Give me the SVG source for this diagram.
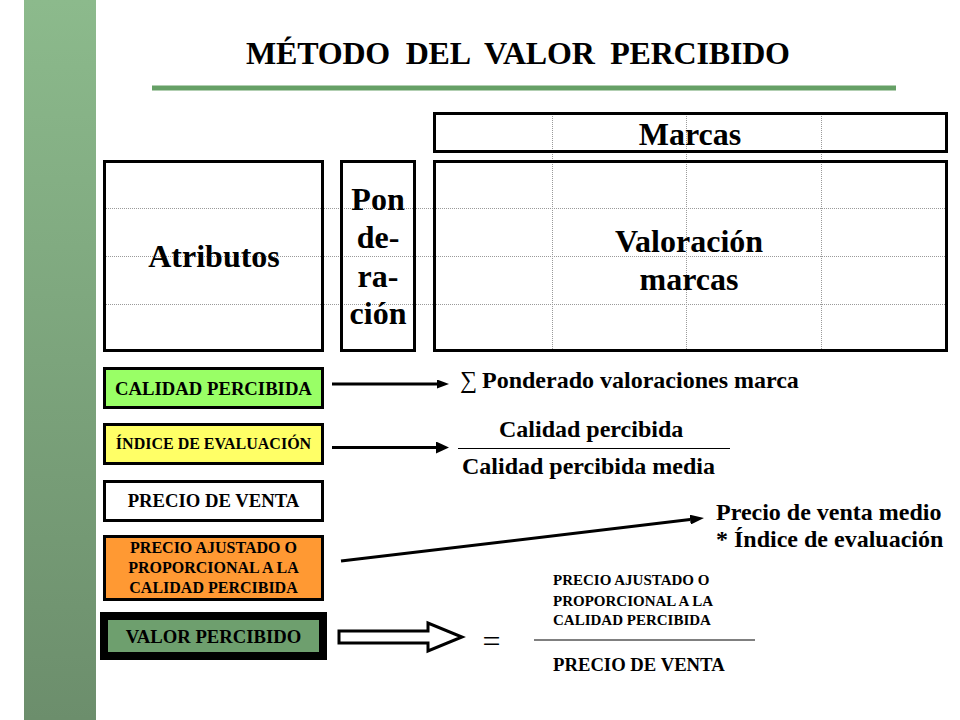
<svg xmlns="http://www.w3.org/2000/svg" width="960" height="720" viewBox="0 0 960 720">
  <defs>
    <linearGradient id="barGrad" x1="0" y1="0" x2="0" y2="1">
      <stop offset="0" stop-color="#8CBA8C"/>
      <stop offset="1" stop-color="#6C8E6C"/>
    </linearGradient>
    <marker id="headS" markerUnits="userSpaceOnUse" markerWidth="12" markerHeight="9" refX="0" refY="4.5" orient="auto">
      <path d="M0,0 L12,4.5 L0,9 z" fill="#000"/>
    </marker>
    <marker id="headL" markerUnits="userSpaceOnUse" markerWidth="13" markerHeight="12" refX="0" refY="6" orient="auto">
      <path d="M0,0 L13,6 L0,12 z" fill="#000"/>
    </marker>
    <marker id="headM" markerUnits="userSpaceOnUse" markerWidth="14" markerHeight="10" refX="0" refY="5" orient="auto">
      <path d="M0,0 L14,5 L0,10 z" fill="#000"/>
    </marker>
  </defs>
  <style>
    text { font-family: "Liberation Serif", Tinos, "DejaVu Serif", "Noto Serif", serif; }
    .t { font-weight: bold; fill: #000; }
    .big { font-size: 32px; }
    .mid { font-size: 24px; }
    .lbl { font-size: 18.7px; }
    .sm { font-size: 16px; }
    .xs { font-size: 15px; }
    .box { stroke: #000; stroke-width: 3; }
    .grid { stroke: #9a9a9a; stroke-width: 1; stroke-dasharray: 1 1; fill: none; }
    .conn { stroke: #000; stroke-width: 3; fill: none; }
  </style>

  <rect x="0" y="0" width="960" height="720" fill="#fff"/>
  <rect id="sidebar" x="24" y="0" width="72" height="720" fill="url(#barGrad)"/>

  <g id="title">
    <text class="t big" x="518" y="64" text-anchor="middle" xml:space="preserve" style="white-space:pre" textLength="544">MÉTODO  DEL  VALOR  PERCIBIDO</text>
    <rect x="152" y="85.5" width="744" height="5" fill="#66A066"/>
  </g>

  <g id="grid">
    <line class="grid" x1="104" y1="208.5" x2="948" y2="208.5"/>
    <line class="grid" x1="104" y1="256.5" x2="948" y2="256.5"/>
    <line class="grid" x1="104" y1="304.5" x2="948" y2="304.5"/>
    <line class="grid" x1="552.5" y1="112" x2="552.5" y2="352"/>
    <line class="grid" x1="686.5" y1="112" x2="686.5" y2="352"/>
    <line class="grid" x1="821.5" y1="112" x2="821.5" y2="352"/>
  </g>

  <g id="marcas">
    <rect class="box" x="434.5" y="113.5" width="512" height="38" fill="none"/>
    <text class="t big" x="690" y="145" text-anchor="middle">Marcas</text>
  </g>

  <g id="atributos">
    <rect class="box" x="104.5" y="161.5" width="218" height="189" fill="none"/>
    <text class="t big" x="214" y="267" text-anchor="middle">Atributos</text>
  </g>

  <g id="ponderacion">
    <rect class="box" x="341.5" y="161.5" width="73" height="189" fill="none"/>
    <text class="t big" x="378" y="210" text-anchor="middle">Pon</text>
    <text class="t big" x="378" y="248" text-anchor="middle">de-</text>
    <text class="t big" x="378" y="287" text-anchor="middle">ra-</text>
    <text class="t big" x="378" y="324" text-anchor="middle">ción</text>
  </g>

  <g id="valoracion">
    <rect class="box" x="434.5" y="161.5" width="512" height="189" fill="none"/>
    <text class="t big" x="689" y="252" text-anchor="middle">Valoración</text>
    <text class="t big" x="689" y="290" text-anchor="middle">marcas</text>
  </g>

  <g id="calidad-percibida">
    <rect class="box" x="104.5" y="368.5" width="218" height="39" fill="#99FF66"/>
    <text class="t lbl" x="213.5" y="395" text-anchor="middle">CALIDAD PERCIBIDA</text>
  </g>

  <g id="indice-evaluacion">
    <rect class="box" x="104.5" y="424.5" width="218" height="39" fill="#FFFF66"/>
    <text class="t sm" x="213.5" y="449" text-anchor="middle">ÍNDICE DE EVALUACIÓN</text>
  </g>

  <g id="precio-venta">
    <rect class="box" x="104.5" y="481.5" width="218" height="39" fill="#FFFFFF"/>
    <text class="t lbl" x="213.5" y="507" text-anchor="middle">PRECIO DE VENTA</text>
  </g>

  <g id="precio-ajustado">
    <rect class="box" x="104.5" y="536.5" width="218" height="63" fill="#FF9933"/>
    <text class="t sm" x="213.5" y="553" text-anchor="middle">PRECIO AJUSTADO O</text>
    <text class="t sm" x="213.5" y="573" text-anchor="middle">PROPORCIONAL A LA</text>
    <text class="t sm" x="213.5" y="593" text-anchor="middle">CALIDAD PERCIBIDA</text>
  </g>

  <g id="valor-percibido">
    <rect x="104" y="616" width="219" height="40" fill="#6E9F6E" stroke="#000" stroke-width="8"/>
    <text class="t lbl" x="213.5" y="643" text-anchor="middle">VALOR PERCIBIDO</text>
  </g>

  <g id="ponderado">
    <text class="t mid" x="460" y="388"><tspan style="font-weight:normal">∑</tspan><tspan x="482">Ponderado valoraciones marca</tspan></text>
  </g>

  <g id="indice-formula">
    <text class="t mid" x="499" y="437">Calidad percibida</text>
    <line x1="458" y1="448.5" x2="730" y2="448.5" stroke="#000" stroke-width="1"/>
    <text class="t mid" x="462" y="474">Calidad percibida media</text>
  </g>

  <g id="precio-formula">
    <text class="t mid" x="716" y="520">Precio de venta medio</text>
    <text class="t mid" x="716" y="547">* Índice de evaluación</text>
  </g>

  <g id="valor-formula">
    <text x="491.5" y="652" text-anchor="middle" style="font-size:32px;fill:#000">=</text>
    <text class="t xs" x="553" y="585">PRECIO AJUSTADO O</text>
    <text class="t xs" x="553" y="606">PROPORCIONAL A LA</text>
    <text class="t xs" x="553" y="625">CALIDAD PERCIBIDA</text>
    <line x1="534" y1="640" x2="755" y2="640" stroke="#000" stroke-width="1"/>
    <text class="t lbl" x="553" y="671">PRECIO DE VENTA</text>
  </g>

  <g id="connectors">
    <line class="conn" x1="332" y1="384" x2="437" y2="384" marker-end="url(#headS)"/>
    <line class="conn" x1="332" y1="447.5" x2="436" y2="447.5" marker-end="url(#headL)"/>
    <line class="conn" x1="341" y1="561" x2="690.1" y2="519.6" marker-end="url(#headM)"/>
    <polygon points="339,631 428,631 428,623 462,637 428,651 428,643 339,643" fill="#fff" stroke="#000" stroke-width="3" stroke-linejoin="miter"/>
  </g>
</svg>
